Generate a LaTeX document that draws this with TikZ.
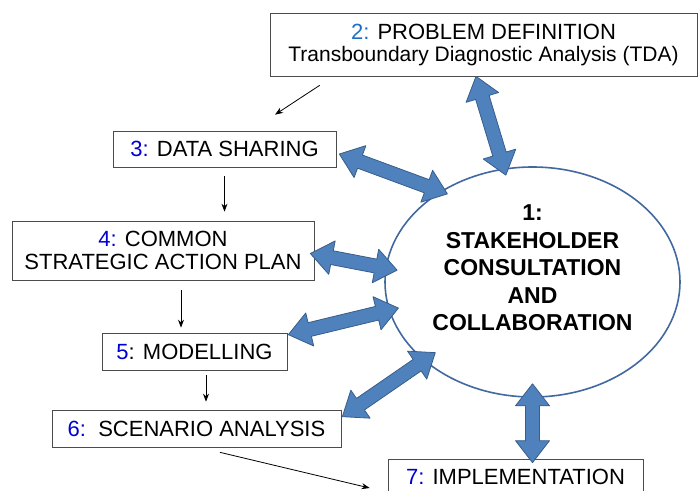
\documentclass[tikz,border=0pt]{standalone}
\usepackage{fontspec}
\setmainfont{Liberation Sans}
\usetikzlibrary{shapes.geometric, arrows.meta, calc}
\definecolor{numblue}{RGB}{0, 0, 210}
\definecolor{titleblue}{RGB}{30, 110, 200}
\definecolor{arrowfill}{RGB}{79, 129, 189}
\definecolor{arrowline}{RGB}{56, 93, 138}
\definecolor{ringcolor}{RGB}{65, 105, 160}

% double headed block arrow between two named points
\newcommand{\blockarrow}[2]{%
  \coordinate (bas) at ($(#1)!22pt!(#2)$);
  \coordinate (bae) at ($(#2)!22pt!(#1)$);
  \filldraw[fill=arrowfill, draw=arrowline, line width=0.8pt, line join=round]
    (#1) -- ($(bas)!17pt!90:(#2)$) -- ($(bas)!7pt!90:(#2)$)
    -- ($(bae)!7pt!-90:(#1)$) -- ($(bae)!17pt!-90:(#1)$) -- (#2)
    -- ($(bae)!17pt!90:(#1)$) -- ($(bae)!7pt!90:(#1)$)
    -- ($(bas)!7pt!-90:(#2)$) -- ($(bas)!17pt!-90:(#2)$) -- cycle;}

\begin{document}
\begin{tikzpicture}[
    x=1pt, y=-1pt,
    box/.style={draw=black!70, fill=white, line width=0.7pt, inner sep=0pt, align=center, font=\fontsize{22}{23}\selectfont},
    ring/.style={ellipse, draw=ringcolor, line width=1.6pt, fill=white, minimum width=295pt, minimum height=230pt, inner sep=0pt},
    ringtext/.style={align=center, font=\bfseries\fontsize{23}{27.5}\selectfont},
    flow/.style={-{Stealth[length=8pt, width=6pt]}, line width=0.8pt},
]
    \useasboundingbox (0,0) rectangle (698,490);

    % Steps
    \node[box, minimum width=427pt, minimum height=63pt, font=\fontsize{22}{22}\selectfont] (box2) at (483.5,44.5)
        {\textcolor{titleblue}{2:} PROBLEM DEFINITION\\{\fontsize{21}{22}\selectfont Transboundary Diagnostic Analysis (TDA)}};
    \node[box, minimum width=223pt, minimum height=36pt] (box3) at (224.5,149) {\textcolor{numblue}{3:} DATA SHARING};
    \node[box, minimum width=302pt, minimum height=59pt] (box4) at (163,250.5) {\textcolor{numblue}{4:} COMMON\\STRATEGIC ACTION PLAN};
    \node[box, minimum width=185pt, minimum height=37pt] (box5) at (194.5,351.5) {\textcolor{numblue}{5}: MODELLING};
    \node[box, minimum width=289pt, minimum height=37pt] (box6) at (196.5,428.5) {\textcolor{numblue}{6:}\ \ SCENARIO ANALYSIS};
    \node[box, minimum width=255pt, minimum height=36pt] (box7) at (515.5,477) {\textcolor{numblue}{7:} IMPLEMENTATION};

    % Stakeholder ring
    \node[ring] (stake) at (532.5,282) {};
    \node[ringtext] (stakelbl) at (532.5,268) {1:\\STAKEHOLDER\\CONSULTATION\\AND\\COLLABORATION};

    % Sequence
    \draw[flow] ([xshift=50pt, yshift=-9pt]box2.south west) -- ([xshift=50.5pt, yshift=16pt]box3.north);
    \draw[flow] ($(box3.south)+(0,9)$) -- ($(box3.south |- box4.north)+(0,-9)$);
    \draw[flow] ($(box4.south)+(18,10)$) -- ($(box5.north)+(-13.5,-5)$);
    \draw[flow] ($(box5.south)+(11.5,5)$) -- ($(box6.north)+(9.5,-8)$);
    \draw[flow] ($(box6.south)+(23.5,5)$) -- ($(box7.west)+(-18,11)$);

    % Arrow ends
    \coordinate (e2) at ($(box2.south)+(-7.5,0)$);
    \coordinate (s2) at ($(stake.104)!7pt!(stake.center)$);
    \coordinate (e3) at ($(box3.east)+(3,5)$);
    \coordinate (s3) at ($(stake.134)!6pt!(stake.center)$);
    \coordinate (e4) at ($(box4.east)+(-4,3)$);
    \coordinate (s4) at ($(stake.175)!12pt!(stake.center)$);
    \coordinate (e5) at ($(box5.north east)+(1,2)$);
    \coordinate (s5) at ($(stake.191)!10pt!(stake.center)$);
    \coordinate (e6) at ($(box6.north east)+(1,7)$);
    \coordinate (s6) at ($(stake.216)!14pt!(stake.center)$);
    \coordinate (e7) at ($(box7.north -| stake.south)+(0,4)$);
    \coordinate (s7) at ($(stake.south)+(0,-14)$);

    % Consultation links
    \blockarrow{e2}{s2}
    \blockarrow{e3}{s3}
    \blockarrow{e4}{s4}
    \blockarrow{e5}{s5}
    \blockarrow{e6}{s6}
    \blockarrow{e7}{s7}
\end{tikzpicture}
\end{document}
